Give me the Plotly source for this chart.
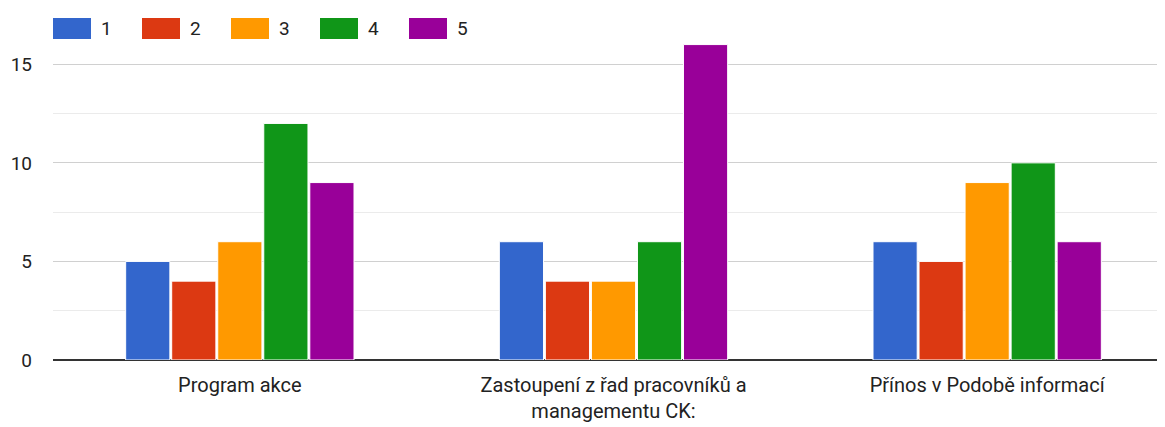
import plotly.graph_objects as go

categories = ["Program akce", "Zastoupení z řad pracovníků a<br>managementu CK:", "Přínos v Podobě informací"]
series_names = ["1", "2", "3", "4", "5"]
values_1 = [5, 6, 6]
values_2 = [4, 4, 5]
values_3 = [6, 4, 9]
values_4 = [12, 6, 10]
values_5 = [9, 16, 6]
colors = ["#3366cc", "#dc3912", "#ff9900", "#109618", "#990099"]

all_values = [values_1, values_2, values_3, values_4, values_5]

OFF = 8  # default page body margin
W, H = 1174 - OFF, 427 - OFF
ml, mr, mt, mb = 53 - OFF, 0, 15 - OFF, 67
pw, ph = W - ml - mr, H - mt - mb

fig = go.Figure()
for name, vals, col in zip(series_names, all_values, colors):
    fig.add_trace(go.Bar(
        x=categories, y=vals, name=name,
        marker=dict(color=col, line=dict(color="white", width=1)),
        showlegend=False,
    ))

font = dict(family="Roboto, Arial, sans-serif", size=19, color="#222222")
xfont = dict(family="Roboto, Arial, sans-serif", size=20, color="#222222")

# custom legend (wide swatches like Google Charts); positions in page pixels
for i, (name, col) in enumerate(zip(series_names, colors)):
    x0 = 53 + i * 89
    fig.add_shape(type="rect", xref="paper", yref="paper",
                  x0=(x0 - 53) / pw, x1=(x0 + 38 - 53) / pw,
                  y0=(360 - 39) / ph, y1=(360 - 18) / ph,
                  fillcolor=col, line=dict(width=0), layer="above")
    fig.add_annotation(xref="paper", yref="paper",
                       x=(x0 + 46 - 53) / pw, y=(360 - 28.5) / ph,
                       text=name, showarrow=False, xanchor="left", yanchor="middle",
                       font=font)

fig.update_layout(
    width=W, height=H,
    margin=dict(l=ml, r=mr, t=mt, b=mb, autoexpand=False),
    plot_bgcolor="white", paper_bgcolor="white",
    barmode="group", bargap=0.384, bargroupgap=0.04,
    font=font,
    xaxis=dict(showgrid=False, showline=False, ticks="", tickfont=xfont,
               ticklabelstandoff=11, automargin=False),
    yaxis=dict(range=[0, 17.5], dtick=5, tick0=0, showgrid=True, gridcolor="#d0d0d0",
               gridwidth=1.3, zeroline=True, zerolinecolor="#333333", zerolinewidth=1.5,
               ticks="", ticklabelstandoff=20, tickfont=font, showline=False, automargin=False,
               minor=dict(dtick=2.5, tick0=0, showgrid=True, gridcolor="#ebebeb", gridwidth=1.3)),
)

fig.write_html("out.html")
